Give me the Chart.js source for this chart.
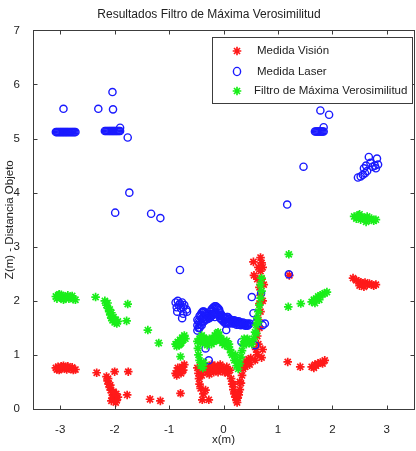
<!DOCTYPE html>
<html>
<head>
<meta charset="utf-8">
<script src="https://cdn.jsdelivr.net/npm/chart.js"></script>
<style>
  html, body { margin: 0; padding: 0; background: #fff; overflow: hidden; }
  #wrap { width: 420px; height: 451px; }
</style>
</head>
<body>
<div id="wrap"><canvas id="chart" width="420" height="451"></canvas></div>
<script>
// Values: [x (m), Z (m)]
const chartTitle = 'Resultados Filtro de Máxima Verosimilitud';
const xTitle = 'x(m)';
const yTitle = 'Z(m) - Distancia Objeto';
const xTickValues = [-3, -2, -1, 0, 1, 2, 3];
const yTickValues = [0, 1, 2, 3, 4, 5, 6, 7];
const seriesLabels = ['Medida Visión', 'Medida Laser', 'Filtro de Máxima Verosimilitud'];

const visionPts = [
    [-3.08, 0.76], [-3.04, 0.78], [-3.0, 0.74], [-2.96, 0.77], [-2.92, 0.75], [-2.88, 0.73],
    [-2.84, 0.76], [-2.80, 0.74], [-2.76, 0.72], [-2.72, 0.73], [-3.02, 0.72], [-2.94, 0.80],
    [-2.86, 0.79], [-2.78, 0.77], [-3.06, 0.73], [-2.98, 0.79],
    [-2.33, 0.67], [-2.0, 0.69], [-1.75, 0.69],
    [-2.15, 0.60], [-2.13, 0.52], [-2.11, 0.46], [-2.09, 0.40], [-2.07, 0.35], [-2.05, 0.30],
    [-2.03, 0.26], [-2.01, 0.22], [-1.99, 0.18], [-1.96, 0.16], [-1.94, 0.22], [-2.04, 0.20],
    [-2.06, 0.15], [-1.97, 0.28], [-2.12, 0.56], [-2.08, 0.44], [-2.02, 0.32], [-1.98, 0.12],
    [-1.77, 0.26], [-1.35, 0.18], [-1.16, 0.15], [-0.79, 0.29],
    [-0.88, 0.66], [-0.84, 0.70], [-0.80, 0.74], [-0.76, 0.78], [-0.72, 0.82], [-0.86, 0.62],
    [-0.78, 0.66], [-0.74, 0.72], [-0.82, 0.68], [-0.76, 0.70], [-0.84, 0.76],
    [-0.48, 0.76], [-0.46, 0.66], [-0.45, 0.56], [-0.44, 0.46], [-0.42, 0.38], [-0.40, 0.62],
    [-0.38, 0.72], [-0.36, 0.80], [-0.33, 0.35], [-0.39, 0.17], [-0.27, 0.17], [-0.37, 0.28],
    [-0.32, 0.76], [-0.28, 0.72], [-0.24, 0.74], [-0.20, 0.78], [-0.16, 0.80], [-0.12, 0.76],
    [-0.08, 0.74], [-0.04, 0.78], [0.00, 0.76], [0.04, 0.72], [0.08, 0.66], [0.12, 0.72],
    [-0.26, 0.64], [-0.18, 0.68], [-0.10, 0.68], [0.02, 0.68], [-0.30, 0.68], [-0.22, 0.82],
    [-0.14, 0.72], [-0.06, 0.82], [0.06, 0.78], [-0.02, 0.70],
    [0.14, 0.56], [0.16, 0.46], [0.18, 0.36], [0.20, 0.28], [0.22, 0.22], [0.24, 0.16],
    [0.26, 0.20], [0.28, 0.26], [0.30, 0.36], [0.32, 0.48], [0.34, 0.62], [0.36, 0.74],
    [0.22, 0.30], [0.26, 0.28], [0.25, 0.12], [0.18, 0.46], [0.30, 0.50],
    [0.38, 0.84], [0.42, 0.88], [0.46, 0.92], [0.50, 0.94], [0.40, 0.78], [0.48, 0.82],
    [0.58, 0.90], [0.62, 1.00], [0.60, 1.10], [0.64, 1.20], [0.62, 1.35], [0.66, 1.50],
    [0.64, 1.65], [0.68, 1.80], [0.66, 1.95], [0.68, 2.10], [0.66, 2.25], [0.70, 2.40],
    [0.68, 2.55], [0.70, 2.70], [0.68, 2.80], [0.72, 2.62], [0.55, 2.72], [0.56, 2.47],
    [0.74, 2.30], [0.72, 1.10], [0.70, 0.95], [0.64, 2.62], [0.72, 2.00], [0.62, 2.40],
    [1.21, 2.47], [1.18, 0.87], [1.41, 0.78],
    [1.62, 0.78], [1.66, 0.76], [1.70, 0.80], [1.74, 0.84], [1.78, 0.86], [1.82, 0.84],
    [1.86, 0.90], [1.68, 0.82],
    [2.38, 2.42], [2.44, 2.38], [2.48, 2.36], [2.52, 2.34], [2.56, 2.32], [2.60, 2.34],
    [2.64, 2.30], [2.68, 2.32], [2.72, 2.30], [2.76, 2.28], [2.80, 2.30], [2.50, 2.28], [2.58, 2.26]
];

const laserPts = [
    [-2.94, 5.55],
    [-3.08, 5.12], [-3.06, 5.12], [-3.04, 5.12], [-3.02, 5.12], [-3.0, 5.12], [-2.98, 5.12],
    [-2.96, 5.12], [-2.94, 5.12], [-2.92, 5.12], [-2.90, 5.12], [-2.88, 5.12], [-2.86, 5.12],
    [-2.84, 5.12], [-2.82, 5.12], [-2.80, 5.12], [-2.78, 5.12], [-2.76, 5.12], [-2.74, 5.12],
    [-2.72, 5.12],
    [-2.30, 5.55], [-2.04, 5.86], [-2.03, 5.54],
    [-2.18, 5.14], [-2.16, 5.14], [-2.14, 5.14], [-2.12, 5.14], [-2.10, 5.14], [-2.08, 5.14],
    [-2.06, 5.14], [-2.04, 5.14], [-2.02, 5.14], [-2.00, 5.14], [-1.98, 5.14], [-1.96, 5.14],
    [-1.94, 5.14], [-1.92, 5.14], [-1.90, 5.14], [-1.90, 5.20],
    [-1.76, 5.02], [-1.73, 4.0], [-1.99, 3.63], [-1.33, 3.61], [-1.16, 3.53],
    [-0.80, 2.57],
    [-0.88, 1.97], [-0.84, 2.0], [-0.80, 1.95], [-0.76, 1.97], [-0.72, 1.92], [-0.86, 1.88],
    [-0.78, 1.86], [-0.68, 1.84], [-0.85, 1.80], [-0.67, 1.80], [-0.74, 1.76], [-0.76, 1.68],
    [-0.82, 1.92], [-0.74, 1.88],
    [-0.48, 1.55], [-0.48, 1.45], [-0.48, 1.65], [-0.46, 1.50], [-0.46, 1.62],
    [-0.44, 1.72], [-0.44, 1.50], [-0.44, 1.60], [-0.42, 1.74], [-0.42, 1.56],
    [-0.40, 1.78], [-0.40, 1.66], [-0.40, 1.55], [-0.38, 1.80], [-0.38, 1.62],
    [-0.36, 1.80], [-0.36, 1.70], [-0.36, 1.62], [-0.34, 1.78], [-0.34, 1.66],
    [-0.32, 1.76], [-0.32, 1.66], [-0.30, 1.74], [-0.30, 1.66], [-0.28, 1.74], [-0.28, 1.68],
    [-0.26, 1.76], [-0.26, 1.68], [-0.24, 1.80], [-0.24, 1.70], [-0.22, 1.84], [-0.22, 1.72],
    [-0.20, 1.86], [-0.20, 1.74], [-0.18, 1.88], [-0.18, 1.76], [-0.16, 1.90], [-0.16, 1.78],
    [-0.16, 1.70], [-0.14, 1.90], [-0.14, 1.76], [-0.12, 1.88], [-0.12, 1.76], [-0.10, 1.86],
    [-0.10, 1.74], [-0.08, 1.84], [-0.08, 1.72], [-0.06, 1.78], [-0.06, 1.68], [-0.04, 1.74],
    [-0.04, 1.66], [-0.02, 1.72], [-0.02, 1.64], [0.00, 1.70], [0.00, 1.62], [0.02, 1.68],
    [0.02, 1.60], [0.04, 1.68], [0.04, 1.58], [0.06, 1.70], [0.06, 1.60], [0.08, 1.70],
    [0.08, 1.60], [0.05, 1.46], [0.10, 1.66], [0.10, 1.58],
    [0.12, 1.66], [0.12, 1.60], [0.14, 1.64], [0.16, 1.64], [0.16, 1.58], [0.18, 1.62],
    [0.20, 1.64], [0.20, 1.58], [0.22, 1.60], [0.24, 1.62], [0.24, 1.56], [0.26, 1.60],
    [0.28, 1.62], [0.28, 1.56], [0.30, 1.58], [0.32, 1.60], [0.32, 1.55], [0.34, 1.58],
    [0.36, 1.60], [0.36, 1.56], [0.38, 1.57], [0.40, 1.58], [0.40, 1.54], [0.42, 1.56],
    [0.44, 1.58], [0.44, 1.54], [0.46, 1.56], [0.48, 1.58],
    [-0.33, 1.12], [-0.27, 0.90], [0.33, 1.24], [0.52, 2.07], [0.55, 1.77], [0.58, 1.18],
    [0.60, 1.60], [0.69, 2.14], [0.76, 1.58], [0.72, 1.55],
    [1.20, 2.49],
    [1.78, 5.52], [1.94, 5.44], [1.84, 5.21],
    [1.68, 5.13], [1.70, 5.13], [1.72, 5.13], [1.74, 5.13], [1.76, 5.13], [1.78, 5.13],
    [1.80, 5.13], [1.82, 5.13], [1.84, 5.13],
    [1.47, 4.48], [1.17, 3.78],
    [2.47, 4.28], [2.52, 4.30], [2.56, 4.33], [2.60, 4.36], [2.64, 4.40], [2.58, 4.45],
    [2.62, 4.50], [2.67, 4.66], [2.70, 4.55], [2.74, 4.48], [2.78, 4.50], [2.82, 4.63],
    [2.84, 4.52], [2.80, 4.45]
];

const filtroPts = [
    [-3.08, 2.08], [-3.04, 2.10], [-3.0, 2.06], [-2.96, 2.08], [-2.92, 2.05], [-2.88, 2.07],
    [-2.84, 2.04], [-2.80, 2.06], [-2.76, 2.03], [-2.72, 2.02], [-3.02, 2.12], [-2.94, 2.02],
    [-2.86, 2.10], [-2.78, 2.09], [-3.06, 2.04], [-2.98, 2.11],
    [-2.35, 2.07],
    [-2.18, 2.0], [-2.15, 1.92], [-2.12, 1.86], [-2.10, 1.80], [-2.08, 1.74], [-2.06, 1.68],
    [-2.04, 1.64], [-2.0, 1.60], [-1.96, 1.58], [-1.94, 1.62], [-2.02, 1.70], [-2.06, 1.78],
    [-2.13, 1.96], [-2.09, 1.84], [-1.98, 1.65],
    [-1.76, 1.94], [-1.78, 1.63], [-1.39, 1.46], [-1.19, 1.22],
    [-0.88, 1.20], [-0.84, 1.24], [-0.80, 1.28], [-0.76, 1.32], [-0.72, 1.36], [-0.86, 1.16],
    [-0.78, 1.22], [-0.74, 1.28], [-0.70, 1.30], [-0.82, 1.18], [-0.80, 1.20], [-0.76, 1.26],
    [-0.79, 0.97],
    [-0.48, 1.25], [-0.47, 1.12], [-0.46, 1.00], [-0.44, 0.90], [-0.42, 0.80], [-0.38, 0.76],
    [-0.36, 0.86], [-0.44, 1.30], [-0.40, 1.36], [-0.36, 1.32], [-0.32, 1.28], [-0.28, 1.24],
    [-0.24, 1.26], [-0.20, 1.30], [-0.16, 1.36], [-0.12, 1.40], [-0.08, 1.36], [-0.04, 1.30],
    [0.00, 1.26], [0.04, 1.22], [-0.30, 1.18], [-0.22, 1.20], [-0.12, 1.28], [0.02, 1.18],
    [-0.42, 1.22], [-0.38, 1.26], [-0.34, 1.22], [-0.26, 1.30], [-0.18, 1.24], [-0.14, 1.30],
    [-0.10, 1.42], [-0.06, 1.26], [-0.02, 1.22], [0.06, 1.26],
    [0.08, 1.16], [0.12, 1.10], [0.16, 1.00], [0.20, 0.90], [0.24, 0.80], [0.27, 0.74],
    [0.30, 0.84], [0.32, 0.96], [0.34, 1.08], [0.36, 1.20], [0.40, 1.26], [0.44, 1.30],
    [0.48, 1.24], [0.52, 1.20], [0.26, 0.88], [0.22, 1.00], [0.10, 1.20], [0.14, 1.04],
    [0.38, 1.30], [0.42, 1.20],
    [0.56, 1.30], [0.58, 1.42], [0.60, 1.55], [0.62, 1.68], [0.64, 1.80], [0.66, 1.92],
    [0.68, 2.05], [0.70, 2.18], [0.68, 2.30], [0.70, 2.42], [0.60, 1.40], [0.64, 1.60],
    [1.20, 2.86], [1.19, 1.89], [1.42, 1.95],
    [1.62, 1.98], [1.66, 2.02], [1.70, 2.04], [1.74, 2.08], [1.78, 2.10], [1.82, 2.12],
    [1.86, 2.14], [1.90, 2.16], [1.68, 1.96], [1.76, 2.02],
    [2.40, 3.56], [2.44, 3.52], [2.48, 3.58], [2.52, 3.50], [2.56, 3.54], [2.60, 3.52],
    [2.64, 3.56], [2.68, 3.50], [2.72, 3.52], [2.76, 3.48], [2.80, 3.50], [2.50, 3.60], [2.62, 3.46]
];

const FONT = '"Liberation Sans", Arial, sans-serif';
const toXY = pts => pts.map(p => ({ x: p[0], y: p[1] }));

// MATLAB-like box with inward ticks on all four sides
const boxAxes = {
    id: 'boxAxes',
    afterDatasetsDraw(chart) {
        const { ctx, chartArea: a, scales } = chart;
        ctx.save();
        ctx.strokeStyle = '#3c3c3c';
        ctx.lineWidth = 1;
        const L = Math.round(a.left) + 0.5, R = Math.round(a.right) + 0.5;
        const T = Math.round(a.top) + 0.5, B = Math.round(a.bottom) + 0.5;
        ctx.strokeRect(L, T, R - L, B - T);
        ctx.beginPath();
        xTickValues.forEach(v => {
            const px = Math.round(scales.x.getPixelForValue(v)) + 0.5;
            ctx.moveTo(px, B); ctx.lineTo(px, B - 4);
            ctx.moveTo(px, T); ctx.lineTo(px, T + 4);
        });
        yTickValues.forEach(v => {
            const py = Math.round(scales.y.getPixelForValue(v)) + 0.5;
            ctx.moveTo(L, py); ctx.lineTo(L + 4, py);
            ctx.moveTo(R, py); ctx.lineTo(R - 4, py);
        });
        ctx.stroke();
        ctx.restore();
    }
};

// Boxed legend in the upper right of the axes
const boxLegend = {
    id: 'boxLegend',
    afterDraw(chart) {
        const { ctx } = chart;
        const bx = 212.5, by = 37.5, bw = 200, bh = 66;
        ctx.save();
        ctx.fillStyle = '#fff';
        ctx.fillRect(bx, by, bw, bh);
        ctx.strokeStyle = '#3c3c3c';
        ctx.lineWidth = 1;
        ctx.strokeRect(bx, by, bw, bh);
        const rows = [51, 71.5, 91];
        chart.data.datasets.forEach((ds, i) => {
            const mx = 237, my = rows[i];
            ctx.strokeStyle = ds.borderColor;
            ctx.lineWidth = ds.borderWidth;
            ctx.beginPath();
            if (ds.pointStyle === 'circle') {
                ctx.ellipse(mx, my, ds.pointRadius, ds.pointRadius + 0.5, 0, 0, Math.PI * 2);
            } else {
                const r = ds.pointRadius;
                ctx.moveTo(mx - r, my); ctx.lineTo(mx + r, my);
                ctx.moveTo(mx, my - r); ctx.lineTo(mx, my + r);
                const d = r * 0.7;
                ctx.moveTo(mx - d, my - d); ctx.lineTo(mx + d, my + d);
                ctx.moveTo(mx - d, my + d); ctx.lineTo(mx + d, my - d);
            }
            ctx.stroke();
            ctx.fillStyle = '#222';
            ctx.font = '11.5px ' + FONT;
            ctx.textBaseline = 'middle';
            ctx.fillText(ds.label, i === 2 ? 254 : 257, my);
        });
        ctx.restore();
    }
};

new Chart(document.getElementById('chart'), {
    type: 'scatter',
    data: {
        datasets: [
            {
                label: seriesLabels[0],
                data: toXY(visionPts),
                pointStyle: 'star',
                pointRadius: 4.3,
                borderWidth: 1.7,
                borderColor: '#ff1a1a',
                backgroundColor: '#ff1a1a',
                order: 3
            },
            {
                label: seriesLabels[1],
                data: toXY(laserPts),
                pointStyle: 'circle',
                pointRadius: 3.6,
                borderWidth: 1.4,
                borderColor: '#1a1aff',
                backgroundColor: 'rgba(0,0,0,0)',
                order: 2
            },
            {
                label: seriesLabels[2],
                data: toXY(filtroPts),
                pointStyle: 'star',
                pointRadius: 4.3,
                borderWidth: 1.7,
                borderColor: '#1aee1a',
                backgroundColor: '#1aee1a',
                order: 1
            }
        ]
    },
    options: {
        responsive: false,
        animation: false,
        devicePixelRatio: 1,
        layout: { padding: { left: 0, right: 2, top: 0, bottom: 0 } },
        plugins: {
            legend: { display: false },
            tooltip: { enabled: false },
            title: {
                display: true,
                text: chartTitle,
                color: '#222',
                font: { family: FONT, size: 12, weight: 'normal' },
                padding: { top: 7, bottom: 9 }
            }
        },
        scales: {
            x: {
                type: 'linear',
                min: -3.5,
                max: 3.5,
                grid: { display: false },
                border: { display: false },
                afterBuildTicks: s => { s.ticks = xTickValues.map(v => ({ value: v })); },
                afterFit: s => { s.height = 42; },
                ticks: { color: '#222', font: { family: FONT, size: 11.5 }, padding: 6 },
                title: {
                    display: true, text: xTitle, color: '#222',
                    font: { family: FONT, size: 11.5 }, padding: { top: 0, bottom: 4 }
                }
            },
            y: {
                type: 'linear',
                min: 0,
                max: 7,
                grid: { display: false },
                border: { display: false },
                afterBuildTicks: s => { s.ticks = yTickValues.map(v => ({ value: v })); },
                afterFit: s => { s.width = 33; },
                ticks: { color: '#222', font: { family: FONT, size: 11.5 }, padding: 5 },
                title: {
                    display: true, text: yTitle, color: '#222',
                    font: { family: FONT, size: 11.5 }, padding: { top: 3, bottom: 0 }
                }
            }
        }
    },
    plugins: [boxAxes, boxLegend]
});
</script>
</body>
</html>
